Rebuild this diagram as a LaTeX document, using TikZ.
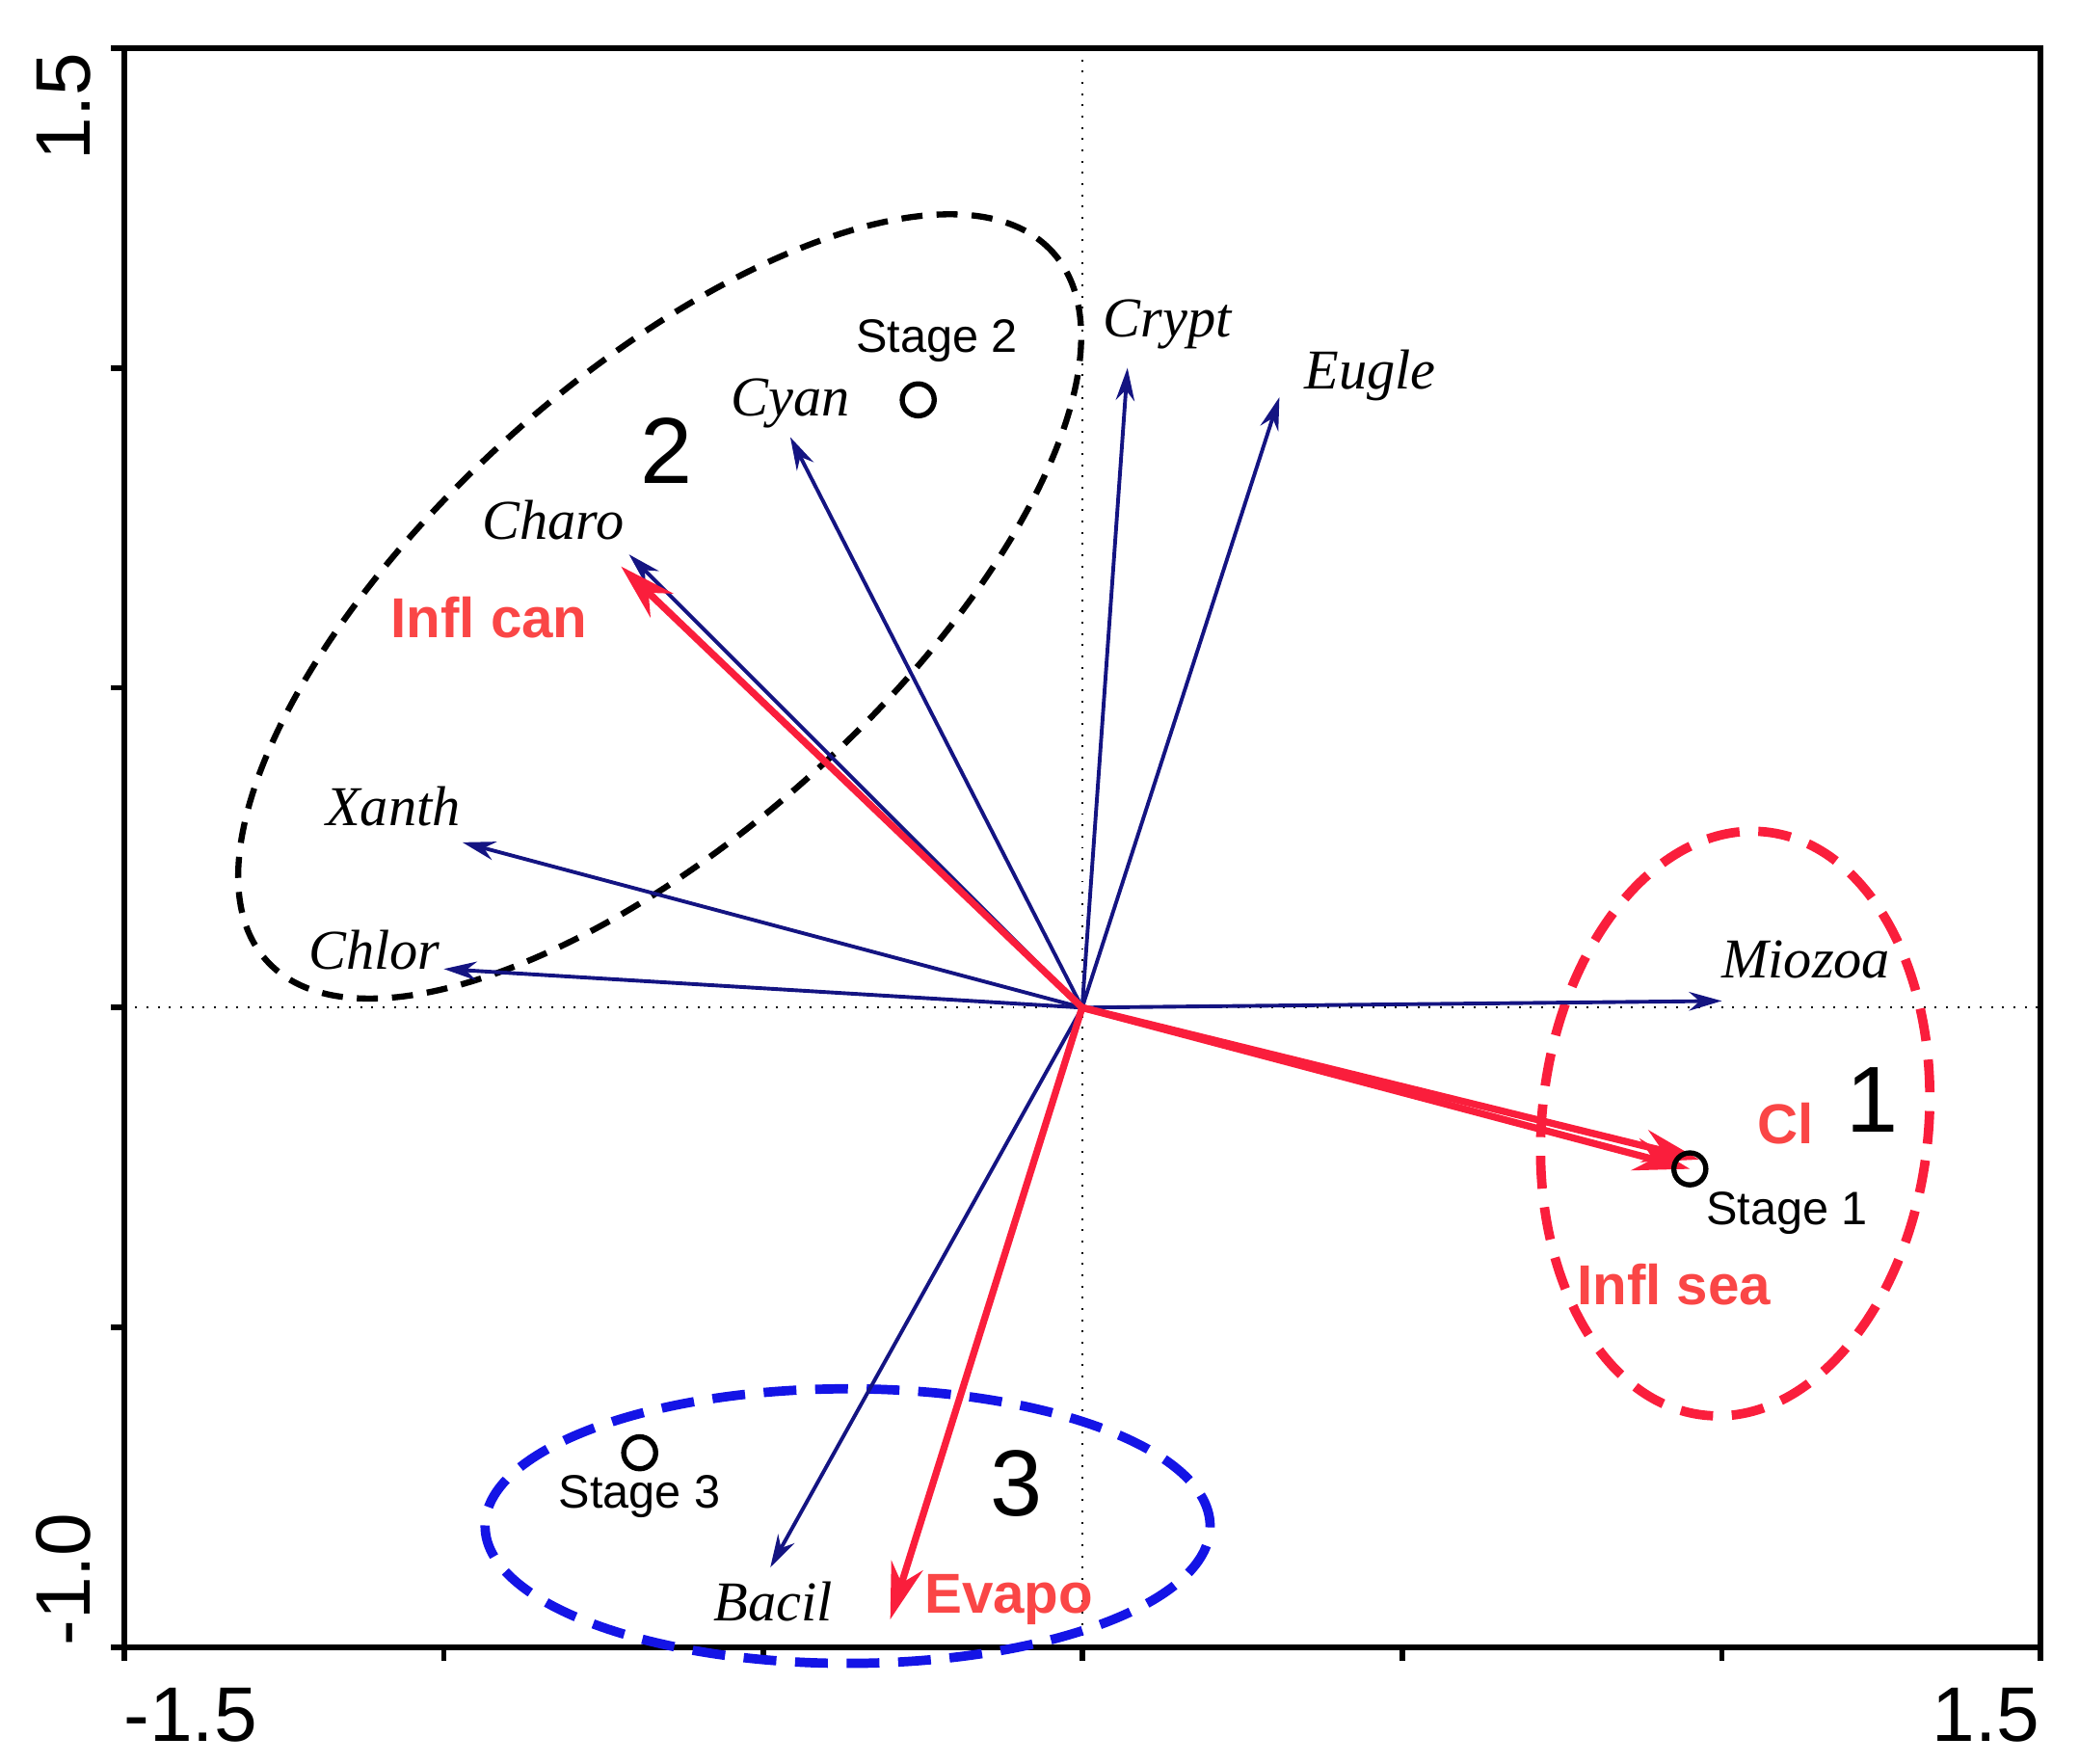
\documentclass[tikz,border=0pt]{standalone}
\usepackage{fontspec}
\setmainfont{Liberation Sans}
\newfontfamily\tms{Liberation Serif}
\usetikzlibrary{arrows.meta}
\definecolor{nv}{RGB}{20,20,130}
\definecolor{rd}{RGB}{250,30,60}
\definecolor{rt}{RGB}{250,70,70}
\definecolor{bl}{RGB}{20,20,230}
\begin{document}
\begin{tikzpicture}[x=0.01cm,y=0.01cm,
 sp/.style={draw=nv,line width=0.8pt,-{Stealth[length=7pt,width=4pt]}},
 ra/.style={draw=rd,line width=1.5pt,-{Stealth[length=12pt,width=7pt]}},
 lab/.style={font=\tms\itshape\fontsize{12}{14}\selectfont},
 rl/.style={text=rt,font=\bfseries\fontsize{12}{14}\selectfont},
 st/.style={font=\fontsize{10}{12}\selectfont},
 big/.style={font=\fontsize{20}{24}\selectfont},
 ax/.style={font=\fontsize{16.5}{20}\selectfont},
 stc/.style={circle,draw,line width=1.1pt,minimum size=0.24cm,inner sep=0}]
\useasboundingbox (0,0) rectangle (1560,1323);
\coordinate (O) at (812,567);
\draw[line width=0.4pt,dotted] (812,87) -- (812,1287);
\draw[line width=0.4pt,dotted] (93,567) -- (1531,567);
\draw[line width=1.2pt] (93,87) rectangle (1531,1287);
\foreach \x in {93,333,573,812,1052,1292,1531} \draw[line width=1.2pt] (\x,87) -- (\x,77);
\foreach \y in {87,327,567,807,1047,1287} \draw[line width=1.2pt] (93,\y) -- (83,\y);
\node[ax] (xl) at (143,36) {-1.5};
\node[ax] (xr) at (1490,36) {1.5};
\node[ax,rotate=90] (yt) at (48,1243) {1.5};
\node[ax,rotate=90] (yb) at (48,138) {-1.0};
% ellipses
\draw[line width=1.3pt,dash pattern=on 4.5pt off 3pt] (495,868) [rotate around={42:(495,868)}] ellipse[x radius=397,y radius=170];
\draw[rd,line width=2pt,dash pattern=on 7pt off 4pt] (1302,480) [rotate around={-6:(1302,480)}] ellipse[x radius=145,y radius=220];
\draw[bl,line width=2pt,dash pattern=on 7pt off 4pt] (636,178) ellipse[x radius=272,y radius=103];
% species arrows
\coordinate (crypt) at (846,1047);
\coordinate (eugle) at (960,1025);
\coordinate (cyan) at (593,995);
\coordinate (charo) at (472,907);
\coordinate (xanth) at (347,691);
\coordinate (chlor) at (333,596);
\coordinate (mioz) at (1292,572);
\coordinate (bacil) at (578,147);
\foreach \t in {crypt,eugle,cyan,charo,xanth,chlor,mioz,bacil} \draw[sp] (O) -- (\t);
\coordinate (ican) at (466,898);
\coordinate (cl) at (1275,453);
\coordinate (isea) at (1268,446);
\coordinate (evap) at (668,108);
\foreach \t in {ican,cl,isea,evap} \draw[ra] (O) -- (\t);
% stages
\node[stc] (s2) at (689,1023) {};
\node[stc] (s1) at (1268,446) {};
\node[stc] (s3) at (480,233) {};
\node[st] at (703,1067) {Stage 2};
\node[st] at (1341,413) {Stage 1};
\node[st] at (480,200) {Stage 3};
% labels
\node[lab] at (593,1020) {Cyan};
\node[lab] at (876,1080) {Crypt};
\node[lab] at (1028,1041) {Eugle};
\node[lab] at (415,933) {Charo};
\node[lab] at (295,718) {Xanth};
\node[lab] at (281,610) {Chlor};
\node[lab] at (1355,603) {Miozoa};
\node[lab] at (580,121) {Bacil};
\node[rl] at (367,860) {Infl can};
\node[rl] at (1340,480) {Cl};
\node[rl] at (1256,359) {Infl sea};
\node[rl] at (757,123) {Evapo};
\node[big] at (500,985) {2};
\node[big] at (1405,498) {1};
\node[big] at (763,210) {3};
\end{tikzpicture}
\end{document}
